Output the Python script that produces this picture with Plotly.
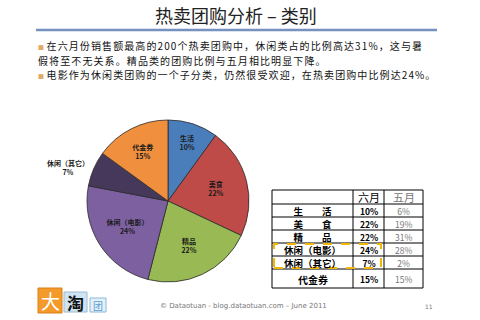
import plotly.graph_objects as go

# ---- data ----
categories = ["生活", "美食", "精品", "休闲（电影）", "休闲（其它）", "代金券"]
share_june = [10, 22, 22, 24, 7, 15]
slice_colors = ["#4A7EBB", "#BE4B48", "#98B954", "#7D60A0", "#46385B", "#F0903E"]

table_rows = ["生　　活", "美　　食", "精　　品", "休闲（电影）", "休闲（其它）", "代金券"]
table_june = ["10%", "22%", "22%", "24%", "7%", "15%"]
table_may = ["6%", "19%", "31%", "28%", "2%", "15%"]
table_headers = ["六月", "五月"]

title_text = "热卖团购分析 – 类别"
bullet_lines = [
    "在六月份销售额最高的200个热卖团购中，休闲类占的比例高达31%，这与暑",
    "假将至不无关系。精品类的团购比例与五月相比明显下降。",
    "电影作为休闲类团购的一个子分类，仍然很受欢迎，在热卖团购中比例达24%。",
]
footer_text = "© Dataotuan - blog.dataotuan.com – June 2011"
page_no = "11"

W, H = 480, 320
FONT = "Noto Sans CJK SC"


def px(x):
    return x / W


def py(y):
    return 1 - y / H


fig = go.Figure()

text_pos = ["inside"] * len(categories)
text_pos[4] = "outside"

fig.add_trace(go.Pie(
    labels=categories,
    values=share_june,
    sort=False,
    direction="clockwise",
    rotation=0,
    marker=dict(colors=slice_colors, line=dict(color="#2a2a2a", width=0.8)),
    texttemplate="<b>%{label}</b><br><b>%{value}%</b>",
    textposition=text_pos,
    insidetextorientation="horizontal",
    insidetextfont=dict(size=7, color="#1a1a1a", family=FONT),
    outsidetextfont=dict(size=7, color="#1a1a1a", family=FONT),
    domain=dict(x=[px(87), px(249)], y=[py(282), py(120)]),
    showlegend=False,
    hoverinfo="label+percent",
))

shapes = []
ann = []

# title & rule
ann.append(dict(x=px(236), y=py(15), text=title_text, showarrow=False,
                font=dict(size=18, family=FONT, color="#222"), xanchor="center", yanchor="middle"))
shapes.append(dict(type="line", x0=px(36), x1=px(437), y0=py(30), y1=py(30),
                   line=dict(color="#7491C0", width=2.5)))

# bullets: one text block, bullet squares as text
has_bullet = [True, False, True]
bullet = '<span style="font-size:6px;color:#E5A862">■</span> '
body = "<br>".join(
    (bullet if b else "") + '<span style="font-size:10px;letter-spacing:1.1px">' + t + "</span>"
    for t, b in zip(bullet_lines, has_bullet))
ann.append(dict(x=px(37), y=py(59.5), text=body, showarrow=False, xanchor="left", yanchor="middle",
                align="left", font=dict(size=11.2, family=FONT, color="#111"), borderpad=0))

# table
tx0, tx1 = 272, 423
col_x = [272, 353, 384, 423]
row_y = [190, 204, 217, 230, 243, 256, 269, 288]
blk = dict(color="#000", width=1)
shapes.append(dict(type="rect", x0=px(tx0), x1=px(tx1), y0=py(row_y[-1]), y1=py(row_y[0]), line=blk))
for cx in col_x[1:-1]:
    shapes.append(dict(type="line", x0=px(cx), x1=px(cx), y0=py(row_y[-1]), y1=py(row_y[0]), line=blk))
for ry in row_y[1:-1]:
    shapes.append(dict(type="line", x0=px(tx0), x1=px(tx1), y0=py(ry), y1=py(ry), line=blk))

hdr_colors = ["#000", "#777"]
for i, h in enumerate(table_headers):
    cxm = (col_x[i + 1] + col_x[i + 2]) / 2
    ann.append(dict(x=px(cxm), y=py((row_y[0] + row_y[1]) / 2 - 0.5), text=h, showarrow=False,
                    font=dict(size=11, family=FONT, color=hdr_colors[i]), xanchor="center", yanchor="middle",
                    borderpad=0))

# first five rows as stacked text blocks (line spacing 13px at 10px base font)
n_top = 5
block_cy = (row_y[1] + row_y[1 + n_top]) / 2 + 0.5
col_centers = [(col_x[k] + col_x[k + 1]) / 2 for k in range(3)]
lab_txt = "<br>".join('<b><span style="font-size:9.5px">' + s + "</span></b>" for s in table_rows[:n_top])
jun_txt = "<br>".join('<b><span style="font-size:8.5px">' + s + "</span></b>" for s in table_june[:n_top])
may_txt = "<br>".join('<span style="font-size:8.5px">' + s + "</span>" for s in table_may[:n_top])
for cx, txt, col in zip(col_centers, [lab_txt, jun_txt, may_txt], ["#000", "#000", "#777"]):
    ann.append(dict(x=px(cx), y=py(block_cy), text=txt, showarrow=False, xanchor="center", yanchor="middle",
                    align="center", font=dict(size=10, family=FONT, color=col), borderpad=0))

# last row
cy_last = (row_y[-2] + row_y[-1]) / 2 + 0.5
ann.append(dict(x=px(col_centers[0]), y=py(cy_last), text="<b>" + table_rows[-1] + "</b>", showarrow=False,
                font=dict(size=10, family=FONT, color="#000"), xanchor="center", yanchor="middle", borderpad=0))
ann.append(dict(x=px(col_centers[1]), y=py(cy_last), text="<b>" + table_june[-1] + "</b>", showarrow=False,
                font=dict(size=8.5, family=FONT, color="#000"), xanchor="center", yanchor="middle", borderpad=0))
ann.append(dict(x=px(col_centers[2]), y=py(cy_last), text=table_may[-1], showarrow=False,
                font=dict(size=8.5, family=FONT, color="#777"), xanchor="center", yanchor="middle", borderpad=0))

# dashed highlight box
shapes.append(dict(type="rect", x0=px(274), x1=px(381), y0=py(268), y1=py(244),
                   line=dict(color="#F2B705", width=2, dash="dash")))

# logo
shapes.append(dict(type="rect", x0=px(38), x1=px(62), y0=py(313), y1=py(288),
                   fillcolor="#F39A2B", line=dict(color="#D9801A", width=1)))
ann.append(dict(x=px(50), y=py(300.5), text="大", showarrow=False,
                font=dict(size=19, family=FONT, color="#fff"), xanchor="center", yanchor="middle"))
shapes.append(dict(type="rect", x0=px(64), x1=px(87), y0=py(312), y1=py(292),
                   fillcolor="#CFE4F2", line=dict(color="#9DBAD0", width=1)))
ann.append(dict(x=px(75.5), y=py(302), text="<b>淘</b>", showarrow=False,
                font=dict(size=17, family=FONT, color="#111"), xanchor="center", yanchor="middle"))
shapes.append(dict(type="rect", x0=px(90), x1=px(106), y0=py(312), y1=py(298),
                   fillcolor="#E3F1FA", line=dict(color="#8CB8D6", width=1)))
ann.append(dict(x=px(98), y=py(305), text="团", showarrow=False,
                font=dict(size=10, family=FONT, color="#5B9BD0"), xanchor="center", yanchor="middle"))

# footer
ann.append(dict(x=px(243), y=py(306), text=footer_text, showarrow=False,
                font=dict(size=7, family="DejaVu Sans", color="#777"), xanchor="center", yanchor="middle"))
ann.append(dict(x=px(429), y=py(306), text=page_no, showarrow=False,
                font=dict(size=6, family="DejaVu Sans", color="#777"), xanchor="center", yanchor="middle"))

fig.update_layout(
    width=W, height=H,
    margin=dict(l=0, r=0, t=0, b=0),
    paper_bgcolor="#ffffff",
    plot_bgcolor="#ffffff",
    shapes=shapes,
    annotations=ann,
    font=dict(family=FONT),
)

fig.write_html("out.html", config={"displayModeBar": False})
